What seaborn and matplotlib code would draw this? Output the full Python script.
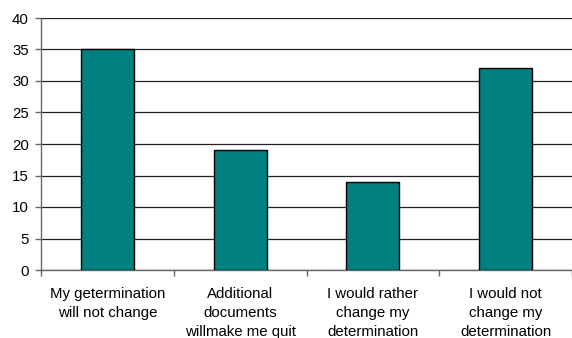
import matplotlib
matplotlib.use("Agg")
import matplotlib.pyplot as plt
import seaborn as sns
import pandas as pd

categories = [
    "My getermination\nwill not change",
    "Additional\ndocuments\nwillmake me quit",
    "I would rather\nchange my\ndetermination",
    "I would not\nchange my\ndetermination",
]
counts = [35, 19, 14, 32]
y_ticks = [0, 5, 10, 15, 20, 25, 30, 35, 40]

df = pd.DataFrame({"category": categories, "count": counts})

sns.set_theme(style="white")
plt.rcParams["font.family"] = ["Liberation Sans", "DejaVu Sans"]

FS = 10.8

fig = plt.figure(figsize=(5.72, 3.38), dpi=100)
ax = fig.add_axes([41 / 572, 68 / 338, 1 - 41 / 572, (270 - 18) / 338])

sns.barplot(data=df, x="category", y="count", ax=ax, color="#008080",
            saturation=1, width=0.4, edgecolor="black", linewidth=1.0, zorder=3)

ax.set_xlim(-0.5, 3.5)
ax.set_ylim(0, 40)
ax.set_yticks(y_ticks)
ax.yaxis.grid(True, color="#222222", linewidth=0.9, zorder=0)
ax.set_axisbelow(True)

for side in ("top", "right"):
    ax.spines[side].set_visible(False)
for side in ("left", "bottom"):
    ax.spines[side].set_color("#666666")
    ax.spines[side].set_linewidth(1.0)

ax.set_xlabel("")
ax.set_ylabel("")

# category labels without ticks; boundary ticks as minor ticks
ax.set_xticks(range(len(categories)))
ax.set_xticklabels(categories, fontsize=FS, color="black", linespacing=1.45)
ax.set_xticks([-0.5, 0.5, 1.5, 2.5, 3.5], minor=True)
ax.tick_params(axis="x", which="major", length=0, pad=12)
ax.tick_params(axis="x", which="minor", length=4.3, width=1, color="#666666", direction="out", bottom=True)
ax.tick_params(axis="y", length=4.3, width=1, color="#666666", direction="out", left=True,
               labelsize=FS, labelcolor="black", pad=4.5)

fig.savefig("out.png", dpi=100)
